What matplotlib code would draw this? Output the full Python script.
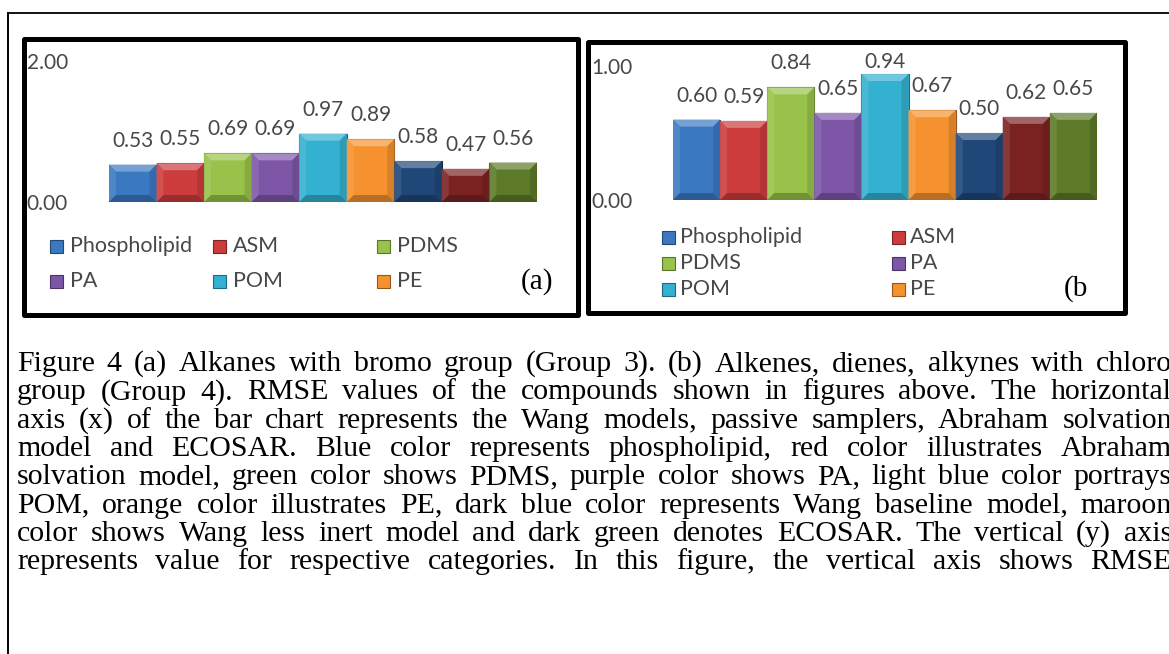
import numpy as np
import matplotlib.pyplot as plt
from matplotlib.patches import Rectangle, Polygon
from matplotlib.lines import Line2D
from matplotlib.colors import to_rgb

W, H = 1169, 654

# series shown in both charts (last three are the Wang models and ECOSAR)
series = ['Phospholipid', 'ASM', 'PDMS', 'PA', 'POM', 'PE',
          'Wang baseline', 'Wang less inert', 'ECOSAR']
colors = ['#3B78C2', '#CC3C3C', '#98C24A', '#7D56A8', '#34B0D0', '#F5922F',
          '#1F4778', '#7A2222', '#5C7A28']

# RMSE, group 3 (a) and group 4 (b)
rmse_a = [0.53, 0.55, 0.69, 0.69, 0.97, 0.89, 0.58, 0.47, 0.56]
rmse_b = [0.60, 0.59, 0.84, 0.65, 0.94, 0.67, 0.50, 0.62, 0.65]
ymax_a = 2.0
ymax_b = 1.0

caption = [
    "Figure 4 (a) Alkanes with bromo group (Group 3). (b) Alkenes, dienes, alkynes with chloro",
    "group (Group 4). RMSE values of the compounds shown in figures above. The horizontal",
    "axis (x) of the bar chart represents the Wang models, passive samplers, Abraham solvation",
    "model and ECOSAR. Blue color represents phospholipid, red color illustrates Abraham",
    "solvation model, green color shows PDMS, purple color shows PA, light blue color portrays",
    "POM, orange color illustrates PE, dark blue color represents Wang baseline model, maroon",
    "color shows Wang less inert model and dark green denotes ECOSAR. The vertical (y) axis",
    "represents value for respective categories. In this figure, the vertical axis shows RMSE",
]

CHART_FONT = 'Lato'
CAP_FONT = 'Liberation Serif'
GREY = '#484848'


def fx(px):
    return px / W


def fy(py):
    return 1 - py / H


def shade(c, f):
    r = np.array(to_rgb(c))
    if f > 0:
        return tuple(r + (1 - r) * f)
    return tuple(r * (1 + f))


def bevel_bars(ax, vals, label_top, bev=7):
    x = np.arange(len(vals))
    bars = ax.bar(x, vals, width=1.0, color=colors,
                  edgecolor=[shade(c, -0.4) for c in colors], linewidth=0.8)
    bb = ax.get_position()
    x0, x1 = ax.get_xlim()
    y0, y1 = ax.get_ylim()
    dx = bev * (x1 - x0) / (bb.width * W)
    dy = bev * (y1 - y0) / (bb.height * H)
    for b, c in zip(bars, colors):
        l, r = b.get_x(), b.get_x() + b.get_width()
        t, bot = b.get_height(), 0
        facets = [
            ([(l, t), (r, t), (r - dx, t - dy), (l + dx, t - dy)], 0.3),
            ([(l, bot), (l, t), (l + dx, t - dy), (l + dx, bot + dy)], 0.1),
            ([(r, bot), (r, t), (r - dx, t - dy), (r - dx, bot + dy)], -0.12),
            ([(l, bot), (r, bot), (r - dx, bot + dy), (l + dx, bot + dy)], -0.25),
        ]
        for pts, f in facets:
            ax.add_patch(Polygon(pts, closed=True, facecolor=shade(c, f),
                                 edgecolor='none', zorder=2.5))
    # value labels sit 24 px above the bar, but never above the plot area
    for i, v in enumerate(vals):
        px, py = ax.transData.transform((x[i], v))
        ax.annotate(f'{v:.2f}', (x[i], v), xytext=(px, min(py + 24, H - label_top)),
                    textcoords='figure pixels', ha='center', va='center',
                    fontsize=15, color=GREY, family=CHART_FONT)
    return bars


def chart(rect_px, vals, ymax, pad, label_top):
    l, r, t, b = rect_px
    ax = fig.add_axes([fx(l), fy(b), (r - l) / W, (b - t) / H])
    ax.set_xlim(-0.5, len(vals) - 0.5)
    ax.set_ylim(0, ymax)
    ax.patch.set_alpha(0)
    for s in ax.spines.values():
        s.set_visible(False)
    ax.set_xticks([])
    ax.set_yticks([0, ymax])
    ax.set_yticklabels([f'{v:.2f}' for v in (0, ymax)])
    ax.tick_params(axis='y', length=0, pad=pad, labelsize=15, labelcolor=GREY)
    for lab in ax.get_yticklabels():
        lab.set_family(CHART_FONT)
    bevel_bars(ax, vals, label_top)
    return ax


def legend_grid(cols_px, rows_px, order, size=13, gap=19):
    k = 0
    for row in rows_px:
        for col in cols_px:
            if k >= len(order):
                return
            i = order[k]
            c = colors[i]
            fig.add_artist(Rectangle((fx(col), fy(row + size / 2)), size / W, size / H,
                                     transform=fig.transFigure, facecolor=c,
                                     edgecolor=shade(c, -0.4), linewidth=0.8))
            fig.text(fx(col + gap), fy(row), series[i], fontsize=15.5, color=GREY,
                     family=CHART_FONT, va='center', ha='left')
            k += 1


def panel_box(l, t, r, b):
    fig.add_artist(Rectangle((fx(l), fy(b)), (r - l) / W, (b - t) / H,
                             transform=fig.transFigure, facecolor='none',
                             edgecolor='black', linewidth=3.6, joinstyle='round'))


fig = plt.figure(figsize=(W / 100, H / 100), dpi=100)
fig.patch.set_facecolor('white')

# page frame
fig.add_artist(Line2D([fx(8), 1], [fy(12.5), fy(12.5)], transform=fig.transFigure,
                      color='black', linewidth=1.3))
fig.add_artist(Line2D([fx(8), fx(8)], [fy(12.5), 0], transform=fig.transFigure,
                      color='black', linewidth=1.4))

# (a)
panel_box(23.5, 38.5, 577.5, 314.5)
chart((109, 537, 61, 202), rmse_a, ymax_a, pad=29.5, label_top=58)
legend_grid([50, 213, 377], [246, 281], [0, 1, 2, 3, 4, 5], size=13, gap=20)
fig.text(fx(521), fy(282), '(a)', fontsize=21, family=CAP_FONT, va='center', ha='left')

# (b)
panel_box(587.5, 41.5, 1124.5, 312.5)
chart((673, 1097, 66, 200), rmse_b, ymax_b, pad=29, label_top=62)
legend_grid([662, 892], [237, 263, 289], [0, 1, 2, 3, 4, 5], size=13, gap=18)
fig.text(fx(1064), fy(289), '(b', fontsize=21, family=CAP_FONT, va='center', ha='left')

# justified caption, word by word
fig.canvas.draw()
renderer = fig.canvas.get_renderer()
left, right = 17, 1172
for k, line in enumerate(caption):
    base = 371 + k * 28.35
    words = line.split()
    arts = [fig.text(0, fy(base), w, fontsize=21.5, family=CAP_FONT, va='baseline')
            for w in words]
    widths = [a.get_window_extent(renderer).width for a in arts]
    gap = (right - left - sum(widths)) / (len(words) - 1)
    x = left
    for a, wd in zip(arts, widths):
        a.set_x(fx(x))
        x += wd + gap

fig.savefig('out.png', dpi=100)
